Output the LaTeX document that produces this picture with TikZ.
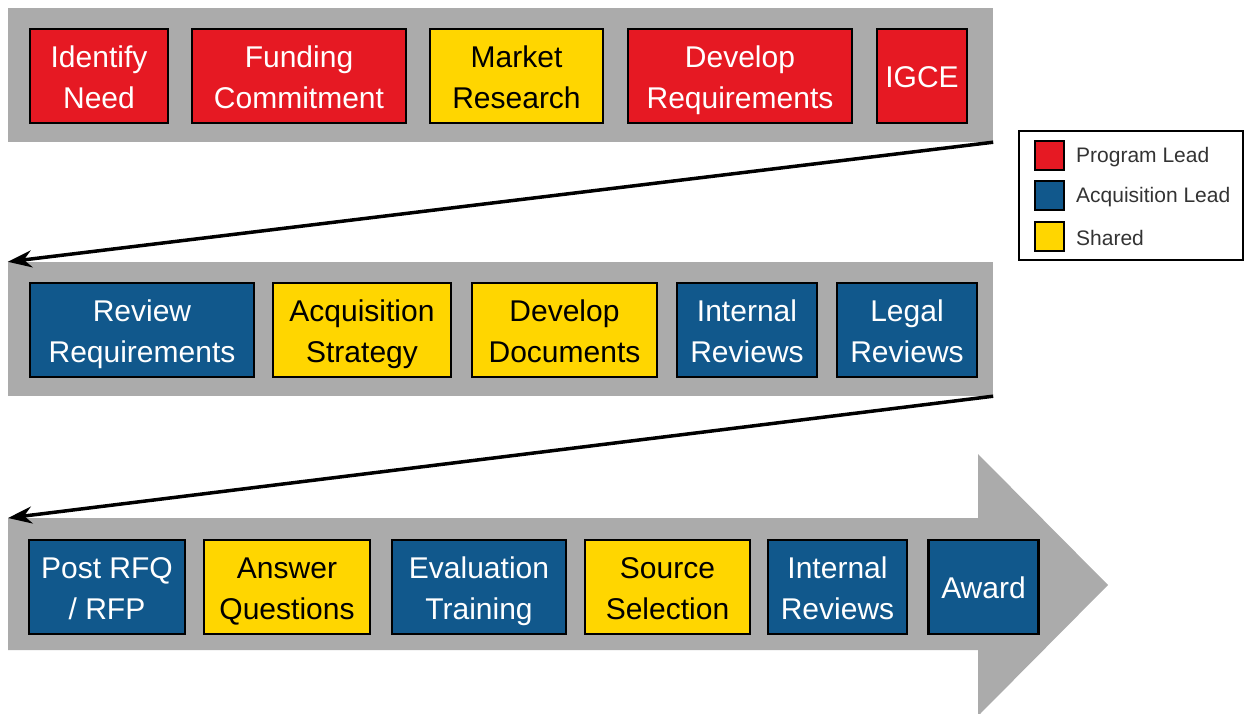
\documentclass[tikz,border=0pt]{standalone}
\usepackage{fontspec}
\setmainfont{Liberation Sans}
\usetikzlibrary{arrows.meta}
\definecolor{pred}{RGB}{230,25,35}
\definecolor{ablue}{RGB}{17,88,140}
\definecolor{syel}{RGB}{255,214,0}
\definecolor{bandgray}{RGB}{171,171,171}
\newcommand{\topstrut}{\rule{0pt}{31.5pt}}
\newcommand{\botstrut}{\rule[-8pt]{0pt}{8pt}}
\newcommand{\twol}[2]{\topstrut#1\\#2\botstrut}
\newcommand{\onestrut}{\rule[-10pt]{0pt}{42pt}}
\begin{document}
\begin{tikzpicture}[x=1pt,y=-1pt,
  boxbase/.style={draw=black, line width=2.5pt, inner sep=0pt, align=center, font=\fontsize{30}{41}\selectfont},
  box/.style={boxbase},
  boxone/.style={boxbase, execute at begin node=\onestrut},
  prog/.style={box, fill=pred, text=white},
  acq/.style={box, fill=ablue, text=white},
  shr/.style={box, fill=syel, text=black},
  progone/.style={boxone, fill=pred, text=white},
  acqone/.style={boxone, fill=ablue, text=white},
  bandsty/.style={fill=bandgray, draw=none, inner sep=0pt},
  flow/.style={line width=3.5pt, -{Stealth[length=24pt,width=17pt]}},
  legsq/.style={draw=black, line width=2pt, minimum size=29pt, inner sep=0pt},
  legtxt/.style={anchor=west, font=\fontsize{21}{24}\selectfont, inner sep=0pt, text=black!80}]
\useasboundingbox (0,0) rectangle (1245,713);
% bands
\node[bandsty, minimum width=985pt, minimum height=134pt] (b1) at (500.5,75) {};
\node[bandsty, minimum width=985pt, minimum height=134pt] (b2) at (500.5,329) {};
\fill[bandgray] (8,518) -- (978,518) -- (978,454) -- (1108,585) -- (978,716) -- (978,650) -- (8,650) -- cycle;
\coordinate (b3) at (8,518);
% row 1
\node[prog, minimum width=138pt, minimum height=94pt] (n11) at (99,76) {\twol{Identify}{Need}};
\node[prog, minimum width=214pt, minimum height=94pt] (n12) at (299,76) {\twol{Funding}{Commitment}};
\node[shr, minimum width=173pt, minimum height=94pt] (n13) at (516.5,76) {\twol{Market}{Research}};
\node[prog, minimum width=224pt, minimum height=94pt] (n14) at (740,76) {\twol{Develop}{Requirements}};
\node[progone, minimum width=90pt, minimum height=94pt] (n15) at (922,76) {IGCE};
% row 2
\node[acq, minimum width=224pt, minimum height=94pt] (n21) at (142,330) {\twol{Review}{Requirements}};
\node[shr, minimum width=178pt, minimum height=94pt] (n22) at (362,330) {\twol{Acquisition}{Strategy}};
\node[shr, minimum width=185pt, minimum height=94pt] (n23) at (564.5,330) {\twol{Develop}{Documents}};
\node[acq, minimum width=140pt, minimum height=94pt] (n24) at (747,330) {\twol{Internal}{Reviews}};
\node[acq, minimum width=140pt, minimum height=94pt] (n25) at (907,330) {\twol{Legal}{Reviews}};
% row 3
\node[acq, minimum width=156pt, minimum height=94pt] (n31) at (107,587) {\twol{Post RFQ}{/ RFP}};
\node[shr, minimum width=166pt, minimum height=94pt] (n32) at (287,587) {\twol{Answer}{Questions}};
\node[acq, minimum width=174pt, minimum height=94pt] (n33) at (479,587) {\twol{Evaluation}{Training}};
\node[shr, minimum width=165pt, minimum height=94pt] (n34) at (667.5,587) {\twol{Source}{Selection}};
\node[acq, minimum width=139pt, minimum height=94pt] (n35) at (837.5,587) {\twol{Internal}{Reviews}};
\node[acqone, minimum width=110pt, minimum height=94pt] (n36) at (983.5,587) {Award};
% connectors
\draw[flow] (b1.south east) -- (b2.north west);
\draw[flow] (b2.south east) -- (b3);
% legend
\node[draw=black, line width=2pt, minimum width=224pt, minimum height=129pt, inner sep=0pt] (leg) at (1131,195.5) {};
\node[legsq, fill=pred] (lq1) at (1049.5,155.5) {};
\node[legsq, fill=ablue] (lq2) at (1049.5,195.5) {};
\node[legsq, fill=syel] (lq3) at (1049.5,236) {};
\node[legtxt] (lt1) at (1076,157) {Program Lead};
\node[legtxt] (lt2) at (1076,197) {Acquisition Lead};
\node[legtxt] (lt3) at (1076,238) {Shared};
\end{tikzpicture}
\end{document}
